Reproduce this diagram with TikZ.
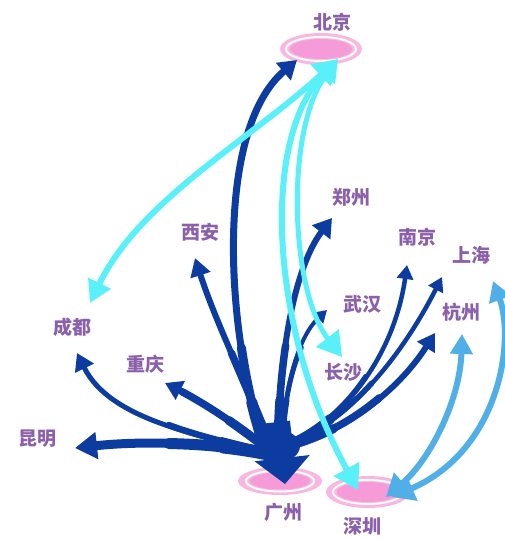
\documentclass[tikz,border=0pt]{standalone}
\usepackage{fontspec}
\newfontfamily\cjk{Noto Sans CJK SC}
\usetikzlibrary{arrows.meta,shapes.geometric}
\definecolor{dkb}{HTML}{0C3CA0}
\definecolor{cya}{HTML}{5AF0FA}
\definecolor{ltb}{HTML}{50AFE6}
\definecolor{pinkO}{HTML}{F8B6E0}
\definecolor{pinkI}{HTML}{F59CD8}
\definecolor{txt}{HTML}{8A60AA}
\tikzset{
  city/.style={font=\cjk\bfseries\fontsize{19}{19}\selectfont, text=txt, inner sep=0pt},
  port/.style={ellipse, fill=pinkO, inner sep=0pt, minimum width=#1},
  dk/.style={draw=dkb, line width=#1, line cap=round},
  cy/.style={draw=cya, line width=6pt, {Triangle[length=22pt,width=24pt]}-{Triangle[length=24pt,width=28pt]}},
  lb/.style={draw=ltb, line width=6pt, {Triangle[length=20pt,width=22pt]}-{Triangle[length=22pt,width=26pt]}},
}
% #1 base width, #2 mid width, #3 tip width, #4 head length, #5 head width, #6 path
\newcommand\dkflow[6]{%
  \draw[dk=#1, dash pattern=on 45pt off 3000pt] #6;
  \draw[dk=#2, dash pattern=on 100pt off 3000pt] #6;
  \draw[dk=#3, -{Triangle[length=#4,width=#5]}] #6;}
\begin{document}
\begin{tikzpicture}[x=1pt,y=-1pt]
\useasboundingbox (0,0) rectangle (505,540);
% ports
\node[port=82pt, minimum height=32pt] (bjE) at (321,49) {};
\draw[white, line width=2pt] (bjE.center) ellipse [x radius=35, y radius=12];
\fill[pinkI] (bjE.center) ellipse [x radius=31, y radius=10];
\node[port=84pt, minimum height=28pt] (gzE) at (280,481) {};
\draw[white, line width=2pt] (gzE.center) ellipse [x radius=34, y radius=10.5];
\fill[pinkI] (gzE.center) ellipse [x radius=30, y radius=8.5];
\node[port=84pt, minimum height=32pt] (szE) at (368,492) {};
\draw[white, line width=2pt] (szE.center) ellipse [x radius=35, y radius=12];
\fill[pinkI] (szE.center) ellipse [x radius=31, y radius=10];
% labels
\node[city] (bj) at (332,22) {北京};
\node[city] (gz) at (283,512) {广州};
\node[city] (sz) at (362,526) {深圳};
\node[city] (zz) at (351,197) {郑州};
\node[city] (nj) at (417,237) {南京};
\node[city] (sh) at (471,255) {上海};
\node[city] (wh) at (362,304) {武汉};
\node[city] (hz) at (461,312) {杭州};
\node[city] (cs) at (343,372) {长沙};
\node[city] (xa) at (200,232) {西安};
\node[city] (cd) at (72,327) {成都};
\node[city] (cq) at (145,364) {重庆};
\node[city] (km) at (37,439) {昆明};
% end points
\coordinate (bjD) at (297,60);
\coordinate (bjC) at (338,59);
\coordinate (gzIn) at (285,484);
\coordinate (szC) at (358,490);
\coordinate (szL) at (386,497);
\coordinate (szR) at (392,497);
\coordinate (zzT) at (332,218);
\coordinate (njT) at (407,265);
\coordinate (shT) at (442,277);
\coordinate (shL) at (493,281);
\coordinate (whT) at (327,310);
\coordinate (hzT) at (435,333);
\coordinate (hzL) at (462,334);
\coordinate (csC) at (342,357);
\coordinate (xaT) at (195,258);
\coordinate (cdT) at (77,353);
\coordinate (cdC) at (90,303);
\coordinate (cqT) at (165,383);
\coordinate (kmT) at (75,448);
\coordinate (hub) at (278,422);
% dark blue flows
\dkflow{11pt}{9pt}{7pt}{18pt}{22pt}{(264,445) .. controls (225,330) and (215,130) .. (bjD)}
\dkflow{9pt}{7.5pt}{6pt}{18pt}{20pt}{(270,445) .. controls (240,370) and (215,320) .. (xaT)}
\dkflow{9pt}{7.5pt}{6pt}{18pt}{22pt}{(278,445) .. controls (280,330) and (300,260) .. (zzT)}
\dkflow{6pt}{5pt}{4pt}{12pt}{14pt}{(282,445) .. controls (285,380) and (300,335) .. (whT)}
\dkflow{7pt}{5.5pt}{4.5pt}{14pt}{16pt}{(292,442) .. controls (350,415) and (395,350) .. (njT)}
\dkflow{7pt}{5.5pt}{4.5pt}{14pt}{16pt}{(292,442) .. controls (360,415) and (410,340) .. (shT)}
\dkflow{9pt}{7.5pt}{6pt}{17pt}{20pt}{(292,445) .. controls (360,425) and (405,380) .. (hzT)}
\dkflow{8pt}{6.5pt}{5pt}{17pt}{20pt}{(265,452) .. controls (200,435) and (110,420) .. (cdT)}
\dkflow{9pt}{7.5pt}{6pt}{17pt}{20pt}{(265,447) .. controls (230,420) and (200,400) .. (cqT)}
\dkflow{13pt}{11pt}{9pt}{22pt}{26pt}{(268,454) .. controls (200,440) and (130,442) .. (kmT)}
\fill[dkb] (278,446) ellipse [x radius=22, y radius=16];
\draw[dkb, line width=24pt, -{Triangle[length=26pt,width=54pt]}] (hub) -- (gzIn);
% cyan flows
\draw[cy] (cdC) .. controls (140,200) and (250,140) .. (bjC);
\draw[cy] (bjC) .. controls (260,140) and (270,330) .. (szC);
\draw[cy, line width=5pt] (bjC) .. controls (285,130) and (290,290) .. (csC);
% light blue flows
\draw[lb] (hzL) .. controls (460,400) and (430,460) .. (szL);
\draw[lb] (shL) .. controls (515,340) and (500,450) .. (szR);
\end{tikzpicture}
\end{document}
